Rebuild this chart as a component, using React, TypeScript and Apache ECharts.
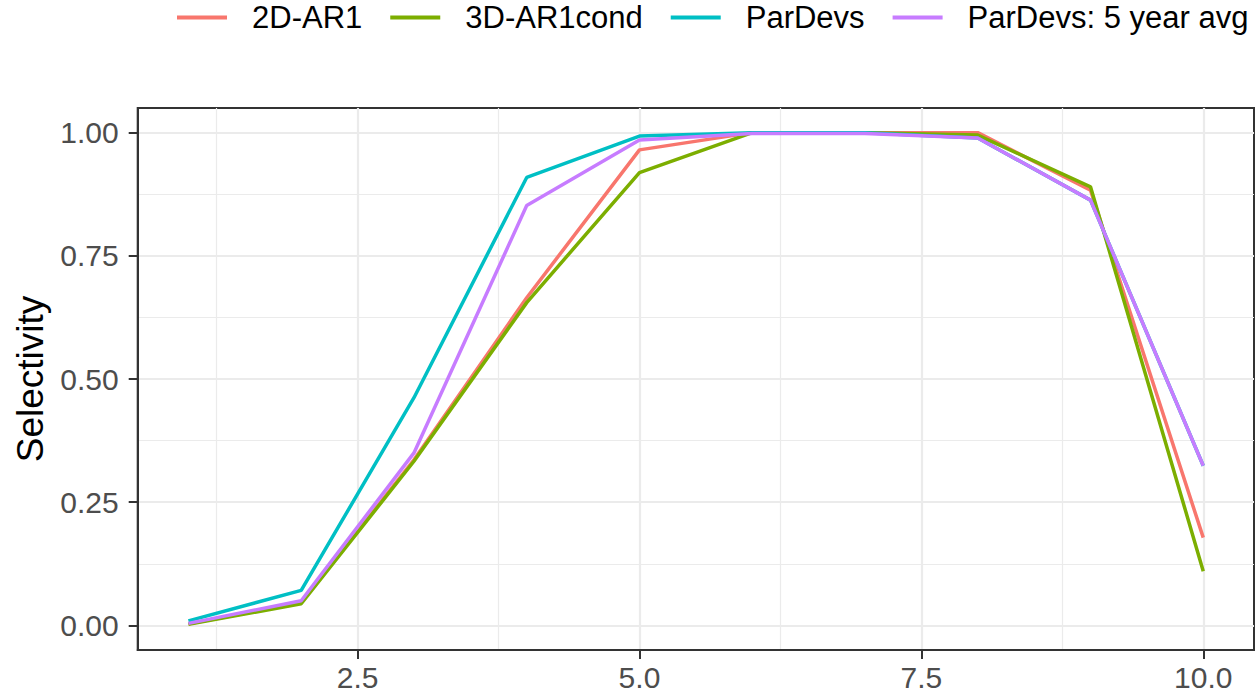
import React, { useEffect, useRef } from "react";
import * as echarts from "echarts";

// Age classes on the x axis
const ages = [1, 2, 3, 4, 5, 6, 7, 8, 9, 10];

// Selectivity-at-age for each model configuration
const sel2DAR1 = [0.003, 0.046, 0.336, 0.665, 0.965, 1.0, 1.0, 1.0, 0.883, 0.178];
const sel3DAR1cond = [0.002, 0.044, 0.333, 0.655, 0.919, 1.0, 1.0, 0.995, 0.89, 0.11];
const selParDevs = [0.009, 0.071, 0.462, 0.909, 0.993, 1.0, 1.0, 0.989, 0.863, 0.324];
const selParDevs5yr = [0.004, 0.05, 0.35, 0.852, 0.985, 0.998, 0.998, 0.989, 0.863, 0.324];

const seriesNames = ["2D-AR1", "3D-AR1cond", "ParDevs", "ParDevs: 5 year avg"];
const seriesColors = ["#F8766D", "#7CAE00", "#00BFC4", "#C77CFF"];

// Axis breaks
const xMajor = [2.5, 5, 7.5, 10];
const xMinor = [1.25, 3.75, 6.25, 8.75];
const yMajor = [0, 0.25, 0.5, 0.75, 1];
const yMinor = [0.125, 0.375, 0.625, 0.875];

const FONT = "'Liberation Sans', Arial, Helvetica, sans-serif";
const GRID_COLOR = "#EBEBEB";
const INK = "#333333";

export default function App() {
  const ref = useRef<HTMLDivElement>(null);

  useEffect(() => {
    if (!ref.current) return;
    const chart = echarts.init(ref.current, undefined, { renderer: "svg" });

    const allSeries = [sel2DAR1, sel3DAR1cond, selParDevs, selParDevs5yr];

    chart.setOption({
      animation: false,
      textStyle: { fontFamily: FONT },
      legend: {
        left: 172,
        top: -3,
        icon: "rect",
        itemWidth: 50,
        itemHeight: 4,
        itemGap: 28,
        data: seriesNames,
        textStyle: {
          fontFamily: FONT,
          fontSize: 31,
          color: "#000000",
          padding: [0, 0, 0, 20],
        },
      },
      grid: {
        left: 137.7,
        right: 5,
        top: 108,
        bottom: 45,
        show: true,
        borderColor: INK,
        borderWidth: 2,
        backgroundColor: "transparent",
      },
      xAxis: [
        {
          type: "value",
          min: 0.55,
          max: 10.45,
          axisLine: { show: true, onZero: false, lineStyle: { color: INK, width: 2 } },
          axisTick: {
            show: true,
            length: 9,
            customValues: xMajor,
            lineStyle: { color: INK, width: 2 },
          },
          axisLabel: {
            customValues: xMajor,
            formatter: (v: number) => v.toFixed(1),
            fontFamily: FONT,
            fontSize: 30,
            color: "#4D4D4D",
            margin: 12,
          },
          splitLine: { show: true, lineStyle: { color: GRID_COLOR, width: 2.2 } },
        },
        {
          type: "value",
          min: 0.55,
          max: 10.45,
          axisLine: { show: false },
          axisTick: { show: false, customValues: xMinor },
          axisLabel: { show: false, customValues: xMinor },
          splitLine: { show: true, lineStyle: { color: GRID_COLOR, width: 1.2 } },
        },
      ],
      yAxis: [
        {
          type: "value",
          min: -0.05,
          max: 1.05,
          name: "Selectivity",
          nameLocation: "middle",
          nameGap: 89,
          nameTextStyle: { fontFamily: FONT, fontSize: 37, color: "#000000" },
          axisLine: { show: true, onZero: false, lineStyle: { color: INK, width: 2 } },
          axisTick: {
            show: true,
            length: 9,
            customValues: yMajor,
            lineStyle: { color: INK, width: 2 },
          },
          axisLabel: {
            customValues: yMajor,
            formatter: (v: number) => v.toFixed(2),
            fontFamily: FONT,
            fontSize: 30,
            color: "#4D4D4D",
            margin: 19,
          },
          splitLine: { show: true, lineStyle: { color: GRID_COLOR, width: 2.2 } },
        },
        {
          type: "value",
          min: -0.05,
          max: 1.05,
          axisLine: { show: false },
          axisTick: { show: false, customValues: yMinor },
          axisLabel: { show: false, customValues: yMinor },
          splitLine: { show: true, lineStyle: { color: GRID_COLOR, width: 1.2 } },
        },
      ],
      series: allSeries.map((vals, i) => ({
        name: seriesNames[i],
        type: "line",
        xAxisIndex: 0,
        yAxisIndex: 0,
        data: ages.map((a, j) => [a, vals[j]]),
        showSymbol: false,
        symbol: "none",
        color: seriesColors[i],
        lineStyle: { color: seriesColors[i], width: 3.5 },
        z: 2 + i,
      })),
    });

    return () => chart.dispose();
  }, []);

  return (
    <div
      ref={ref}
      style={{ position: "absolute", left: 0, top: 0, width: 1259, height: 695 }}
    />
  );
}
